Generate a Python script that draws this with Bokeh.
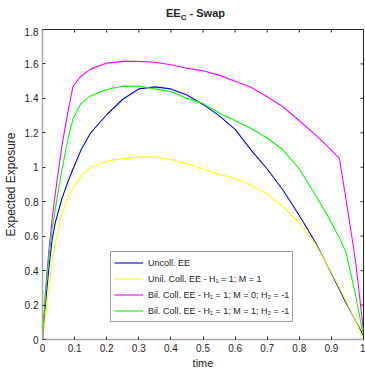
import math
from bokeh.plotting import figure
from bokeh.models import Range1d, FixedTicker, Legend, LegendItem, Div
from bokeh.layouts import column
from bokeh.embed import file_html
from bokeh.resources import INLINE

# ---- data ----
time = [0.0, 0.01, 0.02, 0.03, 0.04, 0.06, 0.08, 0.095, 0.12, 0.15, 0.2, 0.25,
        0.3, 0.35, 0.4, 0.45, 0.5, 0.55, 0.6, 0.65, 0.7, 0.75, 0.8, 0.85, 0.9,
        0.925, 0.945, 0.975, 1.0]
uncoll_ee = [0.0, 0.22, 0.42, 0.58, 0.68, 0.815, 0.92, 0.99, 1.10, 1.20, 1.305, 1.395,
             1.455, 1.467, 1.455, 1.42, 1.365, 1.30, 1.22, 1.10, 0.99, 0.865, 0.72, 0.565, 0.385,
             0.29, 0.215, 0.11, 0.02]
unil_coll_ee = [0.0, 0.15, 0.30, 0.45, 0.56, 0.73, 0.83, 0.88, 0.95, 1.00, 1.035, 1.05,
                1.06, 1.06, 1.045, 1.02, 0.99, 0.96, 0.935, 0.895, 0.845, 0.77, 0.675, 0.555, 0.39,
                0.30, 0.225, 0.11, 0.0]
bil_coll_ee_m0 = [0.0, 0.30, 0.52, 0.70, 0.85, 1.12, 1.33, 1.47, 1.53, 1.57, 1.605, 1.615,
                  1.615, 1.61, 1.595, 1.575, 1.56, 1.535, 1.50, 1.465, 1.41, 1.35, 1.27, 1.19, 1.10,
                  1.05, 0.82, 0.46, 0.05]
bil_coll_ee_m1 = [0.0, 0.28, 0.48, 0.64, 0.76, 0.98, 1.17, 1.28, 1.37, 1.415, 1.452, 1.47,
                  1.472, 1.455, 1.44, 1.40, 1.37, 1.315, 1.27, 1.225, 1.17, 1.10, 0.99, 0.84, 0.68,
                  0.59, 0.51, 0.26, 0.02]
series_labels = ["Uncoll. EE",
                 "Unil. Coll. EE - H\u2081 = 1; M = 1",
                 "Bil. Coll. EE - H\u2081 = 1; M = 0; H\u2082 = -1",
                 "Bil. Coll. EE - H\u2081 = 1; M = 1; H\u2082 = -1"]
series_colors = ["#0000ff", "#ffff00", "#ff00ff", "#00ff00"]
x_ticks = [0.0, 0.1, 0.2, 0.3, 0.4, 0.5, 0.6, 0.7, 0.8, 0.9, 1.0]
x_tick_labels = ["0", "0.1", "0.2", "0.3", "0.4", "0.5", "0.6", "0.7", "0.8", "0.9", "1"]
y_ticks = [0.0, 0.2, 0.4, 0.6, 0.8, 1.0, 1.2, 1.4, 1.6, 1.8]
y_tick_labels = ["0", "0.2", "0.4", "0.6", "0.8", "1", "1.2", "1.4", "1.6", "1.8"]
x_min, x_max = 0.0, 1.0
y_min, y_max = 0.0, 1.8

FONT = "Liberation Sans"
TXT = "#262626"

title = Div(text="EE<sub style='font-size:8px'>C</sub> - Swap", width=365, height=27, margin=0,
            styles={"font-family": "'Liberation Sans', Arial, sans-serif", "font-size": "11px",
                    "font-weight": "bold", "color": TXT, "text-align": "center",
                    "padding-left": "26px", "padding-top": "7px", "box-sizing": "border-box",
                    "width": "365px", "line-height": "12px"})

p = figure(width=365, height=346, output_backend="svg", toolbar_location=None,
           x_range=Range1d(x_min, x_max), y_range=Range1d(y_min, y_max),
           min_border_left=40, min_border_right=2, min_border_top=2, min_border_bottom=34)
p.background_fill_color = "white"
p.border_fill_color = "white"
p.outline_line_color = "#262626"
p.outline_line_width = 1
p.xgrid.visible = False
p.ygrid.visible = False

def style_axis(ax, ticks, labels):
    ax.ticker = FixedTicker(ticks=ticks)
    ax.major_label_overrides = {t: l for t, l in zip(ticks, labels)}
    ax.minor_tick_line_color = None
    ax.major_tick_in = 3
    ax.major_tick_out = 0
    ax.major_tick_line_color = "#262626"
    ax.axis_line_color = "#a6a6a6"
    ax.axis_line_width = 1.5
    ax.major_label_text_font = FONT
    ax.major_label_text_font_size = "10px"
    ax.major_label_text_color = TXT
    ax.axis_label_text_font = FONT
    ax.axis_label_text_font_style = "normal"
    ax.axis_label_text_color = TXT

style_axis(p.xaxis[0], x_ticks, x_tick_labels)
style_axis(p.yaxis[0], y_ticks, y_tick_labels)
p.xaxis[0].axis_label = "time"
p.xaxis[0].axis_label_text_font_size = "11px"
p.xaxis[0].major_label_standoff = 4
p.xaxis[0].axis_label_standoff = 2
p.yaxis[0].axis_label = "Expected Exposure"
p.yaxis[0].axis_label_text_font_size = "12px"
p.yaxis[0].major_label_standoff = 4
p.yaxis[0].axis_label_standoff = 4

# inward box ticks on top and right edges (3 px long)
p.ray(x=x_ticks, y=[y_max] * len(x_ticks), length=3, length_units="screen",
      angle=-math.pi / 2, line_color="#262626", line_width=1)
p.ray(x=[x_max] * len(y_ticks), y=y_ticks, length=3, length_units="screen",
      angle=math.pi, line_color="#262626", line_width=1)

renderers = []
for ys, col in zip([uncoll_ee, unil_coll_ee, bil_coll_ee_m0, bil_coll_ee_m1], series_colors):
    r = p.line(time, ys, line_color=col, line_width=1.1)
    renderers.append(r)

legend = Legend(items=[LegendItem(label=lab, renderers=[r]) for lab, r in zip(series_labels, renderers)],
                location=(68, 17))
legend.label_text_font = FONT
legend.label_text_font_size = "9px"
legend.label_text_color = TXT
legend.glyph_width = 29
legend.glyph_height = 15
legend.label_height = 15
legend.label_standoff = 5
legend.spacing = 1
legend.padding = 3
legend.margin = 0
legend.border_line_color = "#404040"
legend.border_line_width = 1
legend.background_fill_color = "white"
legend.background_fill_alpha = 1
p.add_layout(legend)

layout = column(title, p, spacing=0)
open("out.html", "w").write(file_html(layout, INLINE))
